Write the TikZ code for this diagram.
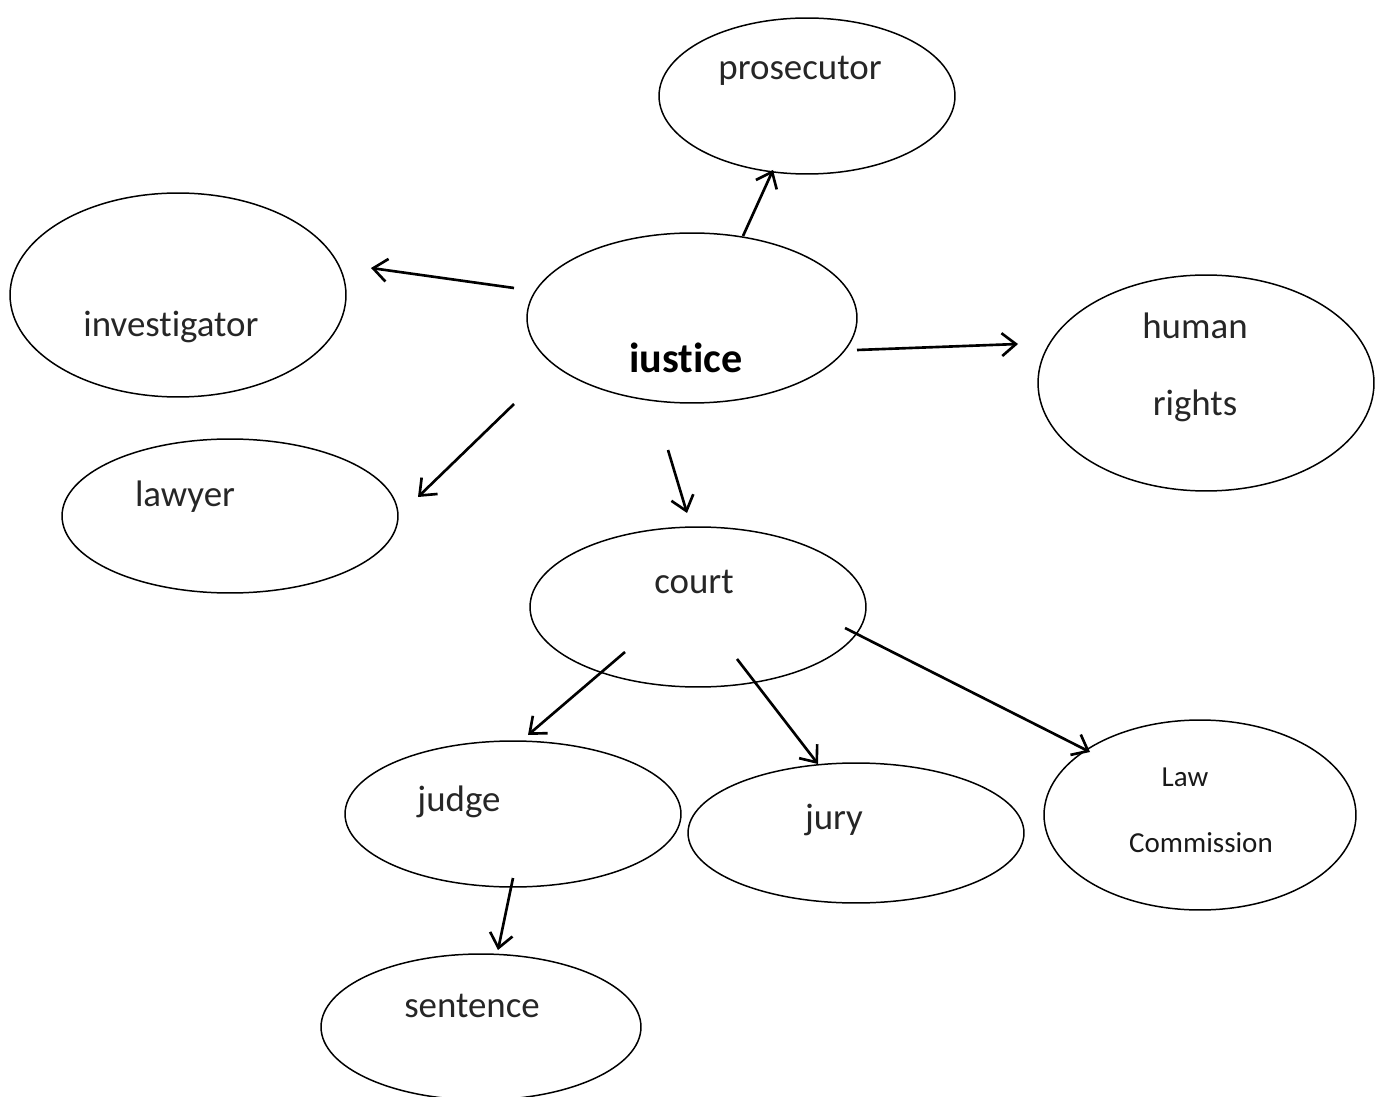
\documentclass[tikz,border=0pt]{standalone}
\usepackage{fontspec}
\setmainfont[Ligatures={NoCommon}]{Carlito}
\usetikzlibrary{shapes.geometric,arrows.meta}
\tikzset{
  bubble/.style={draw=black, line width=0.85pt, ellipse, inner sep=0pt},
  lbl/.style={font=\fontsize{21}{25}\selectfont, text=black!85, inner sep=0pt},
  smalllbl/.style={font=\fontsize{16.5}{20}\selectfont, text=black!90, inner sep=0pt},
  arr/.style={line width=1.5pt, -{Straight Barb[length=8pt,width=13pt,line width=1.5pt]}}
}
\begin{document}
\begin{tikzpicture}[x=0.02cm,y=-0.02cm]
\useasboundingbox (0,0) rectangle (1388,1097);
% ellipses
\node[bubble, minimum width=5.92cm, minimum height=3.12cm] (prosecutor) at (807,96) {};
\node[bubble, minimum width=6.72cm, minimum height=4.08cm] (investigator) at (178,295) {};
\node[bubble, minimum width=6.60cm, minimum height=3.40cm] (justice) at (692,318) {};
\node[bubble, minimum width=6.72cm, minimum height=4.32cm] (human) at (1206,383) {};
\node[bubble, minimum width=6.72cm, minimum height=3.08cm] (lawyer) at (230,516) {};
\node[bubble, minimum width=6.72cm, minimum height=3.20cm] (court) at (698,607) {};
\node[bubble, minimum width=6.72cm, minimum height=2.92cm] (judge) at (513,814) {};
\node[bubble, minimum width=6.72cm, minimum height=2.80cm] (jury) at (856,833) {};
\node[bubble, minimum width=6.24cm, minimum height=3.80cm] (lawcom) at (1200,815) {};
\node[bubble, minimum width=6.40cm, minimum height=2.92cm] (sentence) at (481,1027) {};
% labels
\node[lbl] (tprosecutor) at (800,71) {prosecutor};
\node[lbl] (tinvestigator) at (171,327) {investigator};
\node[lbl, font=\fontsize{24}{28}\selectfont\bfseries, text=black] (tjustice) at (686,358) {iustice};
\node[lbl] (thuman) at (1195,326) {human};
\node[lbl] (trights) at (1195,406) {rights};
\node[lbl] (tlawyer) at (185,497) {lawyer};
\node[lbl] (tcourt) at (694,582) {court};
\node[lbl] (tjudge) at (459,802) {judge};
\node[lbl] (tjury) at (834,820) {jury};
\node[smalllbl] (tlaw) at (1185,777) {Law};
\node[smalllbl] (tcommission) at (1201,843) {Commission};
\node[lbl] (tsentence) at (472,1006) {sentence};
% arrows
\draw[arr] ([shift={(51,-82)}]justice.center) -- ([shift={(-34,74)}]prosecutor.center);
\draw[arr] ([shift={(-178,-30)}]justice.center) -- ([shift={(193,-27)}]investigator.center);
\draw[arr] ([shift={(165,32)}]justice.center) -- ([shift={(-188,-39)}]human.center);
\draw[arr] ([shift={(-178,86)}]justice.center) -- ([shift={(188,-19)}]lawyer.center);
\draw[arr] ([shift={(-24,132)}]justice.center) -- ([shift={(-11,-94)}]court.center);
\draw[arr] ([shift={(-73,45)}]court.center) -- ([shift={(15,-79)}]judge.center);
\draw[arr] ([shift={(39,52)}]court.center) -- ([shift={(-38,-69)}]jury.center);
\draw[arr] ([shift={(147,21)}]court.center) -- ([shift={(-110,-63)}]lawcom.center);
\draw[arr] ([shift={(0,64)}]judge.center) -- ([shift={(17,-77)}]sentence.center);
\end{tikzpicture}
\end{document}
